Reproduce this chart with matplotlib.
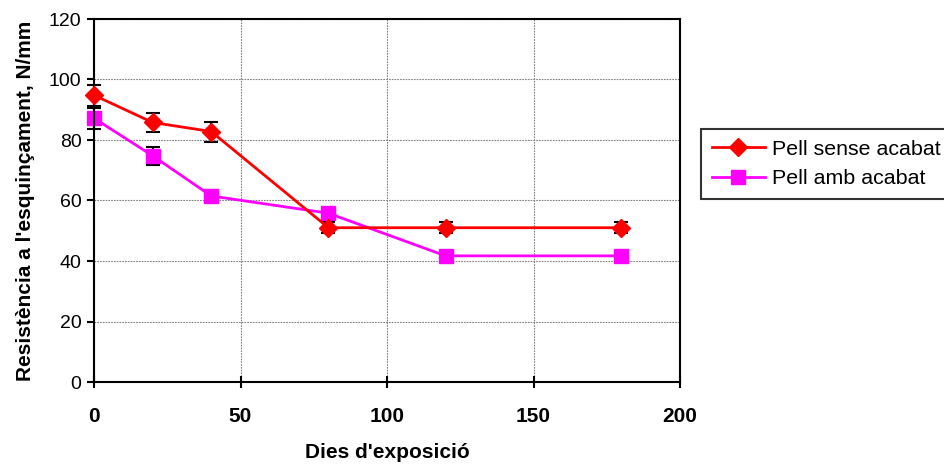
import matplotlib
matplotlib.use("Agg")
import matplotlib.pyplot as plt
from matplotlib.lines import Line2D

plt.rcParams['font.family'] = ['Liberation Sans', 'DejaVu Sans']

days = [0, 20, 40, 80, 120, 180]
sense = [94.8, 85.8, 82.8, 51.0, 51.0, 51.0]
sense_err = [3.5, 3.2, 3.3, 1.8, 1.8, 1.8]
amb = [87.2, 74.8, 61.5, 55.8, 41.7, 41.7]
amb_err = [3.5, 3.0, 2.0, 0.0, 0.0, 0.0]
labels = ["Pell sense acabat", "Pell amb acabat"]

fig = plt.figure(figsize=(9.44, 4.65), dpi=100)
ax = fig.add_axes([94/944, 1-382/465, (680-94)/944, (382-19)/465])

series = [(sense, sense_err, '#ff0000', 'D', 9.5, 3), (amb, amb_err, '#ff00ff', 's', 10.5, 2)]
handles = []
for (vals, err, col, mk, ms, z), lab in zip(series, labels):
    c = ax.errorbar(days, vals, yerr=err, color=col, marker=mk, markersize=ms,
                    lw=2, ecolor='black', elinewidth=1.5, capsize=5, capthick=1.5, zorder=z)
    c[0].set_clip_on(False)
    for a in c[1] + c[2]:
        a.set_clip_on(False)
    handles.append(Line2D([], [], color=col, marker=mk, markersize=ms, lw=2, label=lab))

ax.set_xlim(0, 200)
ax.set_ylim(0, 120)
ax.set_xticks([0, 50, 100, 150, 200])
ax.set_yticks(range(0, 121, 20))
ax.grid(True, color='#808080', linestyle=(0, (1.5, 1)), linewidth=0.8)
ax.set_axisbelow(True)
for s in ax.spines.values():
    s.set_linewidth(1.5)
ax.tick_params(axis='y', direction='out', length=5, width=1.5, labelsize=14, pad=4)
ax.tick_params(axis='x', direction='inout', length=8, width=1.5, labelsize=15, pad=14)
for t in ax.get_xticklabels():
    t.set_fontweight('bold')
ax.set_xlabel("Dies d'exposició", fontsize=15, fontweight='bold', labelpad=12)
ax.set_ylabel("Resistència a l'esquinçament, N/mm", fontsize=15, fontweight='bold', labelpad=10)

leg = fig.legend(handles=handles, loc='upper left', bbox_to_anchor=(701/944, 1-129/465),
                 frameon=True, fancybox=False, edgecolor='black', fontsize=15.4, handlelength=2.5,
                 borderpad=0.5, labelspacing=0.5, handletextpad=0.3, borderaxespad=0)
leg.get_frame().set_linewidth(1.5)

fig.savefig("out.png", dpi=100)
